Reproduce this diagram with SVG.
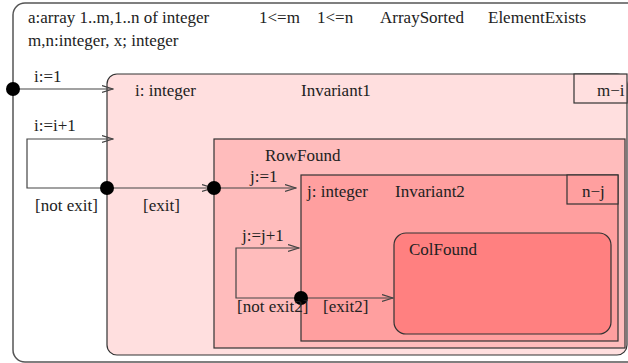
<svg xmlns="http://www.w3.org/2000/svg" width="628" height="363" viewBox="0 0 628 363">
<style>
text{font-family:"Liberation Serif","Times New Roman",serif;font-size:17px;fill:#222}
.box{stroke:#333;stroke-width:1.2}
.conn{fill:none;stroke:#444;stroke-width:1.2}
.dot{fill:#000}
</style>
<defs>
<marker id="arr" markerUnits="userSpaceOnUse" markerWidth="12" markerHeight="10" refX="11" refY="4" orient="auto">
<path d="M0,0.5 L11,4 L0,7.5" fill="none" stroke="#444" stroke-width="1.2"/>
</marker>
</defs>
<rect width="628" height="363" fill="#fff"/>
<g id="outer">
<rect x="13" y="3" width="640" height="359" rx="12" fill="#fff" stroke="#555" stroke-width="1.5"/>
<text x="28" y="23">a:array 1..m,1..n of integer</text>
<text x="28" y="46">m,n:integer, x; integer</text>
<text x="259" y="23">1&lt;=m</text>
<text x="317" y="23">1&lt;=n</text>
<text x="380" y="23">ArraySorted</text>
<text x="488" y="23">ElementExists</text>
</g>
<g id="invariant1">
<rect class="box" x="107" y="74" width="520" height="281" rx="10" fill="#ffdfdf"/>
<rect class="box" x="574" y="74" width="53" height="29" fill="#ffdfdf"/>
<text x="135" y="96">i: integer</text>
<text x="301" y="96">Invariant1</text>
<text x="597" y="96">m−i</text>
</g>
<g id="rowfound">
<rect class="box" x="214" y="139" width="411" height="209" fill="#ffbcbc"/>
<text x="265" y="161">RowFound</text>
</g>
<g id="invariant2">
<rect class="box" x="301" y="175" width="317" height="166" fill="#ff9f9f"/>
<rect class="box" x="567" y="175" width="51" height="29" fill="#ff9f9f"/>
<text x="307" y="197">j: integer</text>
<text x="395" y="197">Invariant2</text>
<text x="582" y="197">n−j</text>
</g>
<g id="colfound">
<rect class="box" x="394" y="233" width="217" height="101" rx="12" fill="#ff8080"/>
<text x="409" y="255">ColFound</text>
</g>
<g id="connectors">
<path class="conn" d="M13,89 L113,89" marker-end="url(#arr)"/>
<path class="conn" d="M107,188 L27,188 L27,139 L113,139" marker-end="url(#arr)"/>
<path class="conn" d="M107,188 L213,188" marker-end="url(#arr)"/>
<path class="conn" d="M214,188 L296,188" marker-end="url(#arr)"/>
<path class="conn" d="M301,298 L236,298 L236,248 L299,248" marker-end="url(#arr)"/>
<path class="conn" d="M301,298 L393,298" marker-end="url(#arr)"/>
<circle class="dot" cx="13" cy="89" r="7"/>
<circle class="dot" cx="107" cy="188" r="7"/>
<circle class="dot" cx="214" cy="188" r="7"/>
<circle class="dot" cx="301" cy="298" r="7"/>
<text x="34" y="82">i:=1</text>
<text x="34" y="131">i:=i+1</text>
<text x="35" y="211">[not exit]</text>
<text x="143" y="211">[exit]</text>
<text x="250" y="182">j:=1</text>
<text x="242" y="241">j:=j+1</text>
<text x="237" y="312">[not exit2]</text>
<text x="323" y="312">[exit2]</text>
</g>
</svg>
